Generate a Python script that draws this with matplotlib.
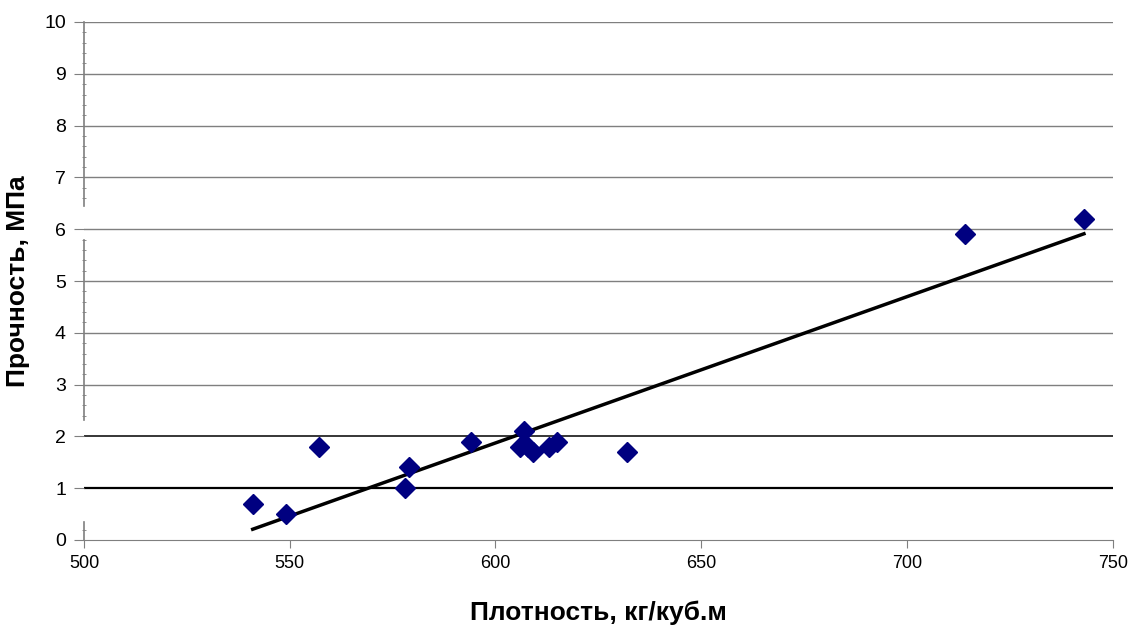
import numpy as np
import matplotlib.pyplot as plt

# density (kg/m3) and strength (MPa) of the samples
density = [541, 549, 557, 578, 579, 594, 607, 606, 608, 609, 613, 615, 632, 714, 743]
strength = [0.7, 0.5, 1.8, 1.0, 1.4, 1.9, 2.1, 1.8, 1.8, 1.7, 1.8, 1.9, 1.7, 5.9, 6.2]

x_ticks = [500, 550, 600, 650, 700, 750]
y_ticks = list(range(0, 11))

plt.rcParams['font.family'] = ['Liberation Sans', 'DejaVu Sans']

fig = plt.figure(figsize=(11.29, 6.25), dpi=100)
ax = fig.add_axes([0.0744, 0.136, 0.9112, 0.8288])

# horizontal grid, the lines at 1 and 2 are darker
for yv in y_ticks[1:]:
    if yv in (1, 2):
        ax.axhline(yv, color='black', lw=1.6 if yv == 1 else 1.1, zorder=1)
    else:
        ax.axhline(yv, color='#7f7f7f', lw=1.0, zorder=1)

# linear trend line over the data range
k, b = np.polyfit(density, strength, 1)
xs = np.array([min(density), max(density)])
ax.plot(xs, k * xs + b, color='black', lw=2.5, zorder=2)

ax.plot(density, strength, linestyle='none', marker='D', markersize=10,
        color='#000080', zorder=3)

ax.set_xlim(500, 750)
ax.set_ylim(0, 10)
ax.set_xticks(x_ticks)
ax.set_yticks(y_ticks)
minor = [v for v in np.arange(0.2, 10, 0.2).round(1)
         if v % 1 and not (0.35 < v < 2.32 or 5.8 < v < 6.45)]
ax.set_yticks(minor, minor=True)

for side in ['top', 'right', 'left']:
    ax.spines[side].set_visible(False)
ax.spines['bottom'].set_color('#7f7f7f')

# left axis line drawn in pieces
for y0, y1 in [(0, 0.35), (2.32, 5.8), (6.45, 10)]:
    ax.plot([500, 500], [y0, y1], color='#7f7f7f', lw=1.2, clip_on=False, zorder=4)

ax.tick_params(axis='y', which='major', length=7, color='#7f7f7f', labelsize=14, pad=6)
ax.tick_params(axis='y', which='minor', length=3, direction='inout', color='#7f7f7f')
ax.tick_params(axis='x', which='major', length=6, color='#7f7f7f', labelsize=13, pad=5)

ax.set_xlabel('Плотность, кг/куб.м', fontsize=19, fontweight='bold', labelpad=20)
ax.set_ylabel('Прочность, МПа', fontsize=19, fontweight='bold', labelpad=10)

fig.savefig('out.png', dpi=100)
